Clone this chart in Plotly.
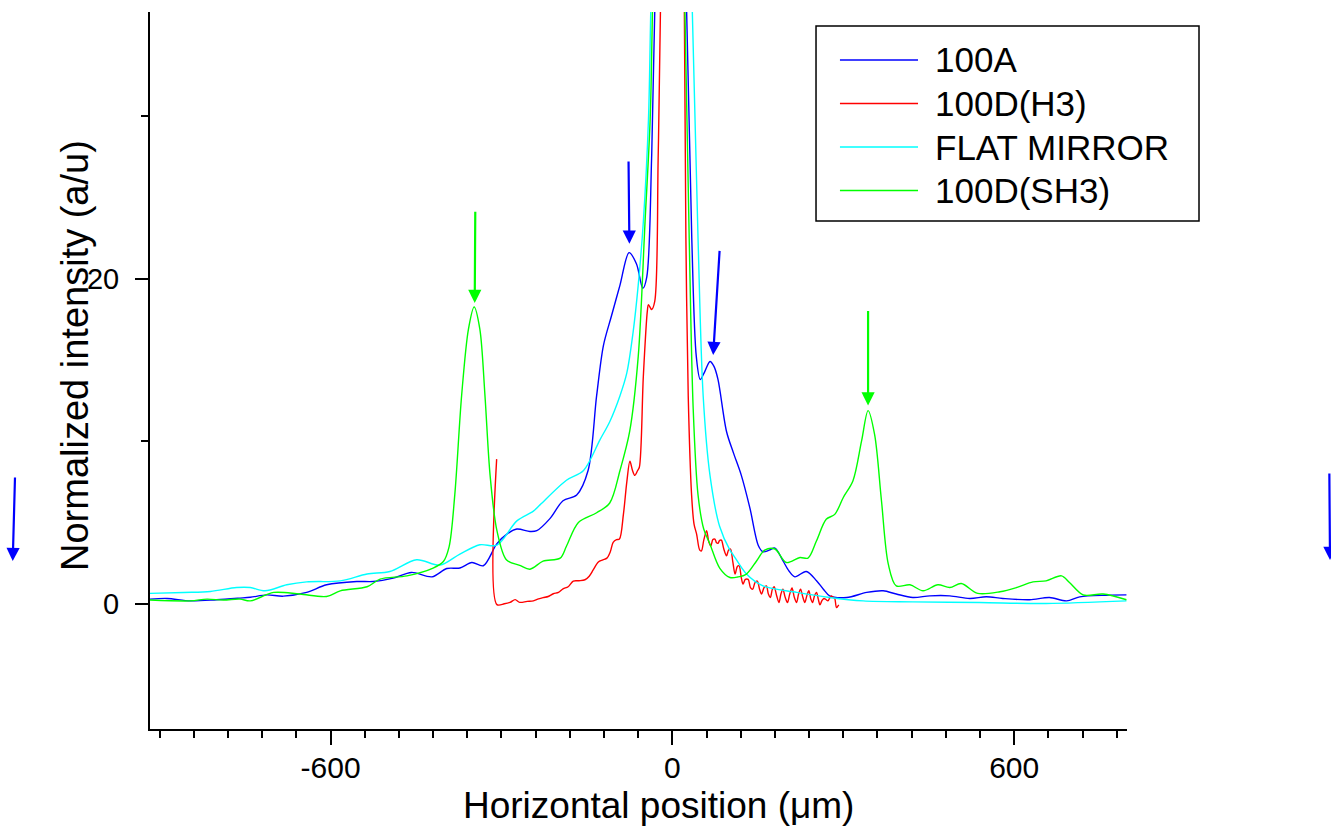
import plotly.graph_objects as go

# ---------------- data ----------------
x_100a = [-917, -887, -846, -800, -759, -741, -712, -683, -642, -607, -554, -525, -490, -458, -422,
          -396, -373, -352, -332, -308, -290, -273, -250, -238, -215, -192, -168, -148, -133, -121,
          -107, -92, -76, -63, -52, -45, -36.5, -31, 0, 25, 34, 42, 49, 57, 66, 73, 80, 95, 107, 121,
          136, 151, 159, 170, 180, 194, 205, 215, 235, 253, 265, 276, 306, 341, 370, 393, 422, 452,
          487, 522, 551, 580, 627, 662, 692, 715, 762, 797]
y_100a = [0.29, 0.33, 0.18, 0.25, 0.35, 0.4, 0.55, 0.47, 0.70, 1.17, 1.37, 1.37, 1.58, 1.93, 1.66,
          2.17, 2.2, 2.54, 2.34, 3.7, 4.3, 4.6, 4.45, 4.5, 5.24, 6.34, 6.7, 8.2, 12.8, 15.9,
          17.7, 19.6, 21.6, 20.9, 19.4, 20.1, 27.4, 36.4, 100, 36.4, 22.5, 15.2, 13.8, 14.3, 14.9, 14.6, 13.8, 10.6, 9.3, 7.9,
          5.9, 3.57, 3.2, 3.3, 3.43, 2.65, 2.0, 1.66, 1.99, 1.42, 0.9, 0.49, 0.39, 0.70, 0.8, 0.6, 0.39, 0.49,
          0.49, 0.33, 0.43, 0.33, 0.25, 0.39, 0.18, 0.43, 0.53, 0.55]

x_h3 = [-308.5, -308, -295, -285, -276, -268, -255, -244, -235, -227, -218, -209, -200, -192, -183,
        -174, -164, -153.5, -146, -139, -130, -122, -115, -109, -104, -98, -93, -86, -80, -74.6,
        -70, -66, -61, -58, -51, -44, -42, -36.5, -31, -25, -21, 0, 21, 23.7, 27.8, 33.7, 38, 42.5,
        48, 51, 55, 60, 64, 67.5, 71, 74.6, 77.5, 80, 83, 86, 90, 95, 98.5, 102, 106, 110, 114, 117,
        121, 124, 128, 133, 137, 141, 145, 149, 153, 156.5, 161, 165, 168.5, 172, 175.5, 178.6, 183,
        187, 190.5, 194, 198, 202, 206, 210, 214, 218, 221.5, 225, 229, 232.5, 236, 239.5, 243, 246,
        249.5, 253, 256, 259, 262.5, 266, 270, 273, 276, 279, 282, 285, 288, 292]
y_h3 = [8.9, -0.05, 0.0, 0.09, 0.26, 0.09, 0.15, 0.18, 0.3, 0.38, 0.45, 0.62, 0.7, 0.92, 1.05,
        1.4, 1.42, 1.48, 1.7, 2.08, 2.57, 2.7, 2.81, 3.2, 3.78, 3.95, 3.98, 5.5, 7.5, 8.77,
        8.2, 7.9, 8.2, 8.4, 14.0, 18.0, 18.4, 18.1, 18.6, 27.4, 36.4, 100, 36.4, 22.5, 12.8, 6.7, 4.9, 4.29,
        3.3, 3.26, 3.9, 4.49, 3.8, 3.57, 3.95, 3.98, 3.75, 3.72, 3.9, 3.92, 3.4, 2.95, 3.3, 3.37, 2.6, 1.83, 2.3, 2.34,
        1.6, 1.21, 1.5, 1.5, 1.0, 0.9, 1.3, 1.4, 0.9, 0.6, 1.0, 1.1, 0.6, 0.39, 0.9, 1.05, 0.5,
        0.08, 0.6, 0.9, 0.4, 0.08, 0.6, 0.97, 0.4, 0.08, 0.6, 0.9, 0.4, 0.08, 0.5, 0.8, 0.3, 0.08,
        0.5, 0.7, 0.3, -0.06, 0.2, 0.33, 0.25, 0.18, 0.35, 0.49, 0.4, 0.33, -0.23, -0.06]

x_flat = [-917, -858, -811, -765, -741, -715, -677, -642, -583, -536, -496, -449, -408, -373, -338,
          -308, -273, -244, -232, -186, -156, -127, -110, -92, -80, -69, -60, -51, -42, -38, 0,
          35, 45, 54, 66, 83, 101, 107, 130, 159, 218, 276, 335, 422, 539, 656, 797]
y_flat = [0.64, 0.70, 0.76, 1.0, 1.0, 0.8, 1.17, 1.35, 1.41, 1.83, 1.99, 2.71, 2.38, 3.06, 3.63,
          3.61, 5.1, 5.7, 6.1, 7.6, 8.2, 10.1, 11.2, 12.8, 14.2, 16.7, 19.6, 23.5, 29.8, 36.4, 100,
          36.4, 22.5, 12.8, 7.9, 4.75, 3.3, 3.0, 1.83, 1.1, 0.70, 0.39, 0.18, 0.12, 0.08, 0.02, 0.18]

x_sh3 = [-917, -846, -817, -788, -759, -741, -700, -654, -607, -583, -536, -513, -466, -420, -402,
         -392, -382, -370, -358, -348, -338, -329, -320, -308, -291, -268, -250, -227, -197, -186,
         -165, -133, -110, -92, -75, -60, -48, -39, -35, 0, 22, 29.5, 36.5, 45, 55, 66, 83, 101, 115,
         130, 148, 162, 180, 200, 224, 238, 253, 270, 285, 300, 317, 332, 343.5, 355, 367, 379, 393,
         417, 440, 466, 487, 507, 536, 575, 604, 633, 656, 683, 697, 721, 756, 797]
y_sh3 = [0.23, 0.18, 0.29, 0.23, 0.29, 0.18, 0.7, 0.6, 0.45, 0.8, 1.05, 1.52, 1.72, 2.2, 2.6,
         3.5, 6.7, 12.8, 16.9, 18.26, 16.9, 12.8, 7.9, 4.5, 2.69, 2.37, 2.13, 2.62, 2.81, 3.54,
         5.0, 5.6, 6.2, 8.2, 10.6, 15.2, 23.5, 29.8, 36.4, 100, 36.4, 22.5, 12.0, 6.7, 4.6, 3.67, 2.2, 1.62, 1.65,
         1.83, 2.65, 3.3, 3.37, 2.54, 2.85, 2.81, 3.88, 5.2, 5.5, 6.54, 7.57, 10.0, 11.88, 10.4, 6.34, 2.44, 1.1,
         1.17, 0.8, 1.17, 1.0, 1.25, 0.64, 0.74, 1.0, 1.35, 1.41, 1.72, 1.31, 0.55, 0.6, 0.25]

series_names = ["100A", "100D(H3)", "FLAT MIRROR", "100D(SH3)"]
series_colors = ["#0000ff", "#ff0000", "#00ffff", "#00ff00"]

x_range = [-917, 798]
y_range = [-7.7, 36.4]
x_major = [-600, 0, 600]
x_major_text = ["-600", "0", "600"]
y_major = [0, 20]
y_major_text = ["0", "20"]

# arrows: (head_x, head_y, tail_x, tail_y, colour)
arrows = [
    (-75.5, 22.15, -77.0, 27.3, "#0000ff"),
    (71.6, 15.3, 83.0, 21.8, "#0000ff"),
    (-347.0, 18.5, -346.0, 24.2, "#00ff00"),
    (343.5, 12.2, 343.5, 18.1, "#00ff00"),
]

# ---------------- figure ----------------
fig = go.Figure()
all_series = [(x_100a, y_100a), (x_h3, y_h3), (x_flat, y_flat), (x_sh3, y_sh3)]
for (xs, ys), name, col in zip(all_series, series_names, series_colors):
    fig.add_trace(go.Scatter(x=xs, y=ys, mode="lines", name=name,
                             line=dict(color=col, width=1.4, shape="spline", smoothing=0.9)))

annotations = []
shapes = []
for hx, hy, tx, ty, col in arrows:
    annotations.append(dict(x=hx, y=hy, xref="x", yref="y", ax=tx, ay=ty, axref="x", ayref="y",
                            text="", showarrow=True, arrowhead=2, arrowsize=1.2, arrowwidth=2.2,
                            arrowcolor=col, standoff=0, startstandoff=0))
# arrows outside the plotting area (at the page edges)
annotations.append(dict(x=-0.1405, y=0.2343, xref="paper", yref="paper", ax=2.3, ay=-85,
                        axref="pixel", ayref="pixel", text="", showarrow=True, arrowhead=2,
                        arrowsize=1.2, arrowwidth=2.2, arrowcolor="#0000ff", standoff=0))
annotations.append(dict(x=1.2112, y=0.2357, xref="paper", yref="paper", ax=-4, ay=-88,
                        axref="pixel", ayref="pixel", text="", showarrow=True, arrowhead=2,
                        arrowsize=1.2, arrowwidth=2.2, arrowcolor="#0000ff", standoff=0))
# axis titles
annotations.append(dict(text="Normalized intensity (a/u)", x=-0.0768, y=0.5216, xref="paper",
                        yref="paper", textangle=-90, showarrow=False, xanchor="center",
                        yanchor="middle",
                        font=dict(family="Liberation Sans", size=38, color="black")))
annotations.append(dict(text="Horizontal position (μm)", x=0.52, y=-0.106, xref="paper",
                        yref="paper", showarrow=False, xanchor="center", yanchor="middle",
                        font=dict(family="Liberation Sans", size=37, color="black")))

# legend box drawn by hand (long line samples as in the reference)
shapes.append(dict(type="rect", xref="paper", yref="paper", x0=0.6817, x1=1.0737,
                   y0=0.7085, y1=0.9805, line=dict(color="black", width=1.5),
                   fillcolor="white", layer="above"))
legend_rows = [0.9331, 0.8724, 0.8117, 0.7511]
for name, col, ry in zip(series_names, series_colors, legend_rows):
    shapes.append(dict(type="line", xref="paper", yref="paper", x0=0.7062, x1=0.7861,
                       y0=ry, y1=ry, line=dict(color=col, width=1.6), layer="above"))
    annotations.append(dict(text=name, x=0.8010, y=ry, xref="paper", yref="paper",
                            showarrow=False, xanchor="left", yanchor="middle",
                            font=dict(family="Liberation Sans", size=35, color="black")))

fig.update_layout(
    width=1331, height=833,
    margin=dict(l=150, r=204, t=12, b=104),
    paper_bgcolor="white", plot_bgcolor="white",
    showlegend=False,
    annotations=annotations,
    shapes=shapes,
)
fig.update_xaxes(range=x_range, showgrid=False, zeroline=False, showline=True,
                 linecolor="black", linewidth=2, ticks="outside", ticklen=14, tickwidth=2,
                 tickcolor="black", tickvals=x_major, ticktext=x_major_text,
                 ticklabelstandoff=-3,
                 tickfont=dict(family="Liberation Sans", size=30, color="black"),
                 minor=dict(dtick=60, tick0=0, ticks="outside", ticklen=7, tickwidth=2,
                            tickcolor="black", showgrid=False))
fig.update_yaxes(range=y_range, showgrid=False, zeroline=False, showline=True,
                 linecolor="black", linewidth=2, ticks="outside", ticklen=13, tickwidth=2,
                 tickcolor="black", tickvals=y_major, ticktext=y_major_text,
                 ticklabelstandoff=10,
                 tickfont=dict(family="Liberation Sans", size=29, color="black"),
                 minor=dict(dtick=10, tick0=0, ticks="outside", ticklen=7, tickwidth=2,
                            tickcolor="black", showgrid=False))

fig.write_html("out.html", config={"displayModeBar": False},
               post_script="document.body.style.margin='0';document.body.style.overflow='hidden';")
